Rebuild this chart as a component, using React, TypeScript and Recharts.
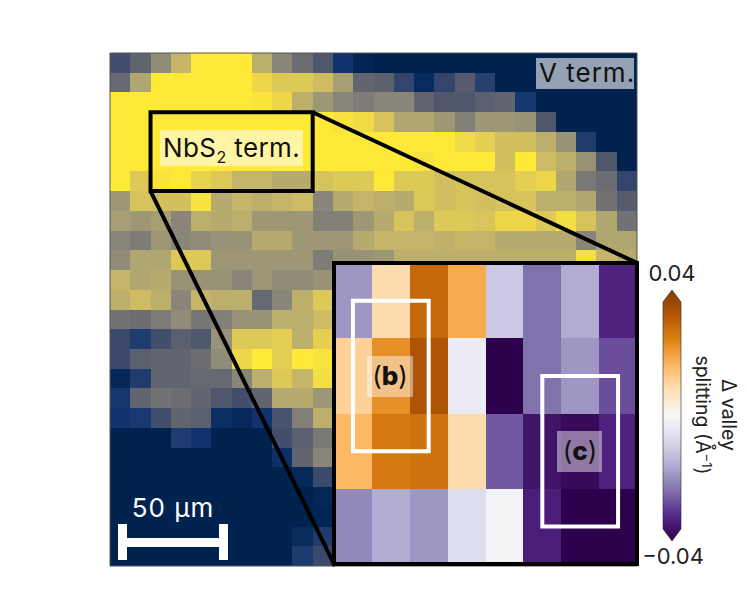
import React from 'react';
import { ScatterChart, Scatter, XAxis, YAxis, ReferenceArea, ReferenceLine, BarChart, Bar } from 'recharts';

// intensity map, row by row (top to bottom), 0 = navy, 1 = yellow
// rows below 10 stop at column 10, the inset sits over the rest
const mapRows: number[][] = [
  [.25, .37, .58, .75, 1, 1, 1, .72, .55, .42, .3, .1, .02, 0, 0, 0, 0, 0, 0, 0, 0, 0, 0, 0, 0, 0],
  [.4, .68, 1, 1, 1, 1, 1, .92, .85, .85, .78, .65, .38, .35, .2, .05, .2, .33, .17, 0, 0, 0, 0, 0, 0, 0],
  [1, 1, 1, 1, 1, 1, 1, .98, .92, .72, .62, .55, .5, .55, .55, .38, .3, .3, .35, .38, .12, 0, 0, 0, 0, 0],
  [1, 1, 1, 1, 1, 1, 1, 1, 1, 1, 1, .97, .93, .82, .68, .68, .62, .52, .62, .62, .6, .3, 0, 0, 0, 0],
  [1, 1, 1, 1, 1, 1, 1, 1, 1, 1, 1, 1, 1, 1, 1, 1, 1, .93, .88, .8, .8, .72, .6, .15, 0, 0],
  [1, 1, 1, 1, 1, 1, 1, 1, 1, 1, 1, 1, 1, 1, 1, .97, 1, 1, 1, .8, 1, .78, .72, .6, .3, 0],
  [1, .85, .98, 1, .9, .85, .75, .75, .7, .7, .82, .85, .85, 1, .85, .85, .8, .82, .82, .82, .88, .92, .68, .48, .42, .2],
  [.62, .82, .8, .8, .97, .7, .75, .72, .75, .78, .55, .7, .75, .72, .7, .85, .8, .82, .8, .82, .82, .72, .72, .68, .45, .33],
  [.65, .62, .65, .55, .72, .7, .72, .62, .62, .62, .52, .52, .62, .7, .82, .72, .85, .85, .83, .92, .92, .85, .95, .82, .68, .45],
  [.55, .5, .62, .55, .58, .6, .6, .7, .7, .62, .62, .62, .7, .75, .75, .75, .73, .75, .75, .7, .7, .7, .7, .55, .68, .68],
  [.58, .68, .68, .85, .85, .62, .62, .62, .62, .62, .5, .6, .6, .62, .72, .72, .72, .72, .72, .72, .72, .72, .72, .95, .75, .7],
  [.75, .68, .7, .6, .6, .6, .55, .62, .58, .58, .6],
  [.72, .78, .72, .55, .75, .72, .72, .4, .55, .72, .85],
  [.45, .42, .5, .58, .47, .52, .6, .6, .72, .72, .78],
  [.22, .15, .25, .35, .3, .6, .85, .85, .88, .72, .88],
  [.22, .35, .38, .38, .42, .58, .92, 1, .88, 1, .98],
  [.03, .15, .38, .38, .4, .4, .55, .72, .85, .75, .95],
  [.12, .38, .45, .42, .38, .3, .25, .38, .7, .7, .62],
  [.1, .13, .25, .38, .35, .07, .04, .1, .28, .52, .72],
  [0, 0, 0, .15, .1, 0, 0, 0, .25, .35, .48],
  [0, 0, 0, 0, 0, 0, 0, 0, .08, .38, .55],
  [0, 0, 0, 0, 0, 0, 0, 0, 0, .04, .22],
  [0, 0, 0, 0, 0, 0, 0, 0, 0, 0, .03],
  [0, 0, 0, 0, 0, 0, 0, 0, 0, 0, .02],
  [0, 0, 0, 0, 0, 0, 0, 0, 0, .05, .15],
  [0, 0, 0, 0, 0, 0, 0, 0, 0, .14, .22],
];

// valley splitting of the zoomed region, in inverse angstrom
const insetRows: number[][] = [
  [-.019, .009, .029, .018, -.011, -.024, -.016, -.033],
  [.011, .022, .033, -.003, -.04, -.024, -.019, -.028],
  [.016, .026, .027, .009, -.027, -.036, -.038, -.033],
  [-.021, -.016, -.019, -.007, -.001, -.034, -.04, -.04],
];

const colorbarRange = [{ name: 'splitting', range: [-0.04, 0.04] }];

const CIVIDIS = ['#00224e', '#123570', '#3b496c', '#575d6d', '#707173', '#8a8678', '#aca372', '#cdbb64', '#e6d150', '#fee838'];
// top of the colorbar first
const PUOR = ['#7f3b08', '#b35806', '#e08214', '#fdb863', '#fee0b6', '#f7f7f7', '#d8daeb', '#b2abd2', '#8073ac', '#542788', '#2d004b'];

const MAP_W = 527;
const MAP_H = 513;
const INSET_W = 303;
const INSET_H = 301;
const PAD = 4;

const hexToRgb = (hex: string) => [1, 3, 5].map((i) => parseInt(hex.slice(i, i + 2), 16));

const pickColor = (stops: string[], t: number) => {
  const p = Math.min(Math.max(t, 0), 1) * (stops.length - 1);
  const i = Math.min(Math.floor(p), stops.length - 2);
  const a = hexToRgb(stops[i]);
  const b = hexToRgb(stops[i + 1]);
  const c = a.map((v, k) => Math.round(v + (b[k] - v) * (p - i)));
  return `rgb(${c[0]},${c[1]},${c[2]})`;
};

const mapData = mapRows.flatMap((row, r) => row.map((value, c) => ({ x: c + 0.5, y: r + 0.5, value })));
const insetData = insetRows.flatMap((row, r) => row.map((value, c) => ({ x: c + 0.5, y: r + 0.5, value })));

const MapCell = (props: any) => {
  const w = MAP_W / 26;
  const h = MAP_H / 26;
  return <rect x={props.cx - w / 2} y={props.cy - h / 2} width={w} height={h} fill={pickColor(CIVIDIS, props.payload.value)} shapeRendering="crispEdges" />;
};

const InsetCell = (props: any) => {
  const w = INSET_W / 8;
  const h = INSET_H / 4;
  return <rect x={props.cx - w / 2} y={props.cy - h / 2} width={w} height={h} fill={pickColor(PUOR, (0.04 - props.payload.value) / 0.08)} shapeRendering="crispEdges" />;
};

const ColorbarShape = (props: any) => {
  const { x, y, width, height } = props;
  const tip = 12;
  const pts = [
    [x + width / 2, y],
    [x + width, y + tip],
    [x + width, y + height - tip],
    [x + width / 2, y + height],
    [x, y + height - tip],
    [x, y + tip],
  ];
  return <polygon points={pts.map((p) => p.join(',')).join(' ')} fill="url(#puor)" stroke="#2a2a2a" strokeWidth={0.6} />;
};

const FONT = 'Inter, sans-serif';

export default function App() {
  return (
    <div style={{ position: 'absolute', left: 0, top: 0, width: 747, height: 589, background: '#fff', overflow: 'hidden' }}>
      <div style={{ position: 'absolute', left: 110 - PAD, top: 53 - PAD }}>
        <ScatterChart width={MAP_W + PAD * 2} height={MAP_H + PAD * 2} margin={{ top: PAD, right: PAD, bottom: PAD, left: PAD }}>
          <XAxis type="number" dataKey="x" domain={[0, 26]} hide />
          <YAxis type="number" dataKey="y" domain={[0, 26]} reversed hide />
          <Scatter data={mapData} shape={MapCell} isAnimationActive={false} />
          <ReferenceArea x1={0} x2={26} y1={0} y2={26} fill="none" stroke="#555" strokeWidth={1} ifOverflow="visible" zIndex={700} />
          <ReferenceArea x1={2} x2={10} y1={3} y2={7} fill="none" stroke="#000" strokeWidth={4} ifOverflow="visible" zIndex={700} />
          <ReferenceLine segment={[{ x: 10, y: 3 }, { x: 26, y: 10.64 }]} stroke="#000" strokeWidth={4} ifOverflow="visible" zIndex={700} />
          <ReferenceLine segment={[{ x: 2, y: 7 }, { x: 11.1, y: 26 }]} stroke="#000" strokeWidth={4} ifOverflow="visible" zIndex={700} />
        </ScatterChart>
      </div>

      <div style={{ position: 'absolute', left: 334 - PAD, top: 263 - PAD }}>
        <ScatterChart width={INSET_W + PAD * 2} height={INSET_H + PAD * 2} margin={{ top: PAD, right: PAD, bottom: PAD, left: PAD }}>
          <XAxis type="number" dataKey="x" domain={[0, 8]} hide />
          <YAxis type="number" dataKey="y" domain={[0, 4]} reversed hide />
          <Scatter data={insetData} shape={InsetCell} isAnimationActive={false} />
          <ReferenceArea x1={0.5} x2={2.5} y1={0.5} y2={2.5} fill="none" stroke="#fff" strokeWidth={4} ifOverflow="visible" zIndex={700} />
          <ReferenceArea x1={5.5} x2={7.5} y1={1.5} y2={3.5} fill="none" stroke="#fff" strokeWidth={4} ifOverflow="visible" zIndex={700} />
          <ReferenceArea x1={0} x2={8} y1={0} y2={4} fill="none" stroke="#000" strokeWidth={4} ifOverflow="visible" zIndex={710} />
        </ScatterChart>
      </div>

      <div style={{ position: 'absolute', left: 652, top: 290 }}>
        <BarChart width={40} height={251} data={colorbarRange} margin={{ top: 0, right: 0, bottom: 0, left: 0 }}>
          <defs>
            <linearGradient id="puor" x1="0" y1="0" x2="0" y2="1">
              {PUOR.map((c, i) => (
                <stop key={c} offset={`${(i / (PUOR.length - 1)) * 100}%`} stopColor={c} />
              ))}
            </linearGradient>
          </defs>
          <XAxis dataKey="name" hide />
          <YAxis domain={[-0.04, 0.04]} hide />
          <Bar dataKey="range" barSize={18} shape={ColorbarShape} isAnimationActive={false} />
        </BarChart>
      </div>

      {/* labels on top of everything */}
      <svg width={747} height={589} style={{ position: 'absolute', left: 0, top: 0, pointerEvents: 'none' }} fontFamily={FONT}>
        <rect x={160} y={130} width={143} height={36} fill="#fff" fillOpacity={0.55} />
        <text x={163} y={157} fontSize={26} letterSpacing={0.4} fill="#111">
          NbS<tspan fontSize={16} dy={6}>2</tspan><tspan dy={-6}> term.</tspan>
        </text>

        <rect x={536} y={58} width={98} height={31} fill="#fff" fillOpacity={0.58} />
        <text x={539} y={82} fontSize={26} letterSpacing={1} fill="#111">V term.</text>

        <text x={173} y={517} fontSize={26} letterSpacing={1} fill="#fff" textAnchor="middle">50 µm</text>
        <rect x={118} y={524} width={9} height={36} fill="#fff" />
        <rect x={219} y={524} width={9} height={36} fill="#fff" />
        <rect x={118} y={538} width={110} height={9} fill="#fff" />

        <rect x={367} y={356} width={46} height={41} fill="#fff" fillOpacity={0.45} />
        <text x={390} y={385} fontSize={26} fill="#111" textAnchor="middle">(<tspan fontWeight={800}>b</tspan>)</text>
        <rect x={557} y={431} width={45} height={41} fill="#fff" fillOpacity={0.45} />
        <text x={580} y={460} fontSize={26} fill="#111" textAnchor="middle">(<tspan fontWeight={800}>c</tspan>)</text>

        <text x={672} y={281} fontSize={22} fill="#222" textAnchor="middle">0.04</text>
        <text x={673} y={564} fontSize={22} fill="#222" textAnchor="middle">−0.04</text>

        <text transform="translate(722,415) rotate(90)" fontSize={19.5} fill="#222" textAnchor="middle">Δ valley</text>
        <text transform="translate(696,415) rotate(90)" fontSize={19.5} fill="#222" textAnchor="middle">
          splitting (Å<tspan fontSize={13} dy={-6}>−1</tspan><tspan dy={6}>)</tspan>
        </text>
      </svg>
    </div>
  );
}
